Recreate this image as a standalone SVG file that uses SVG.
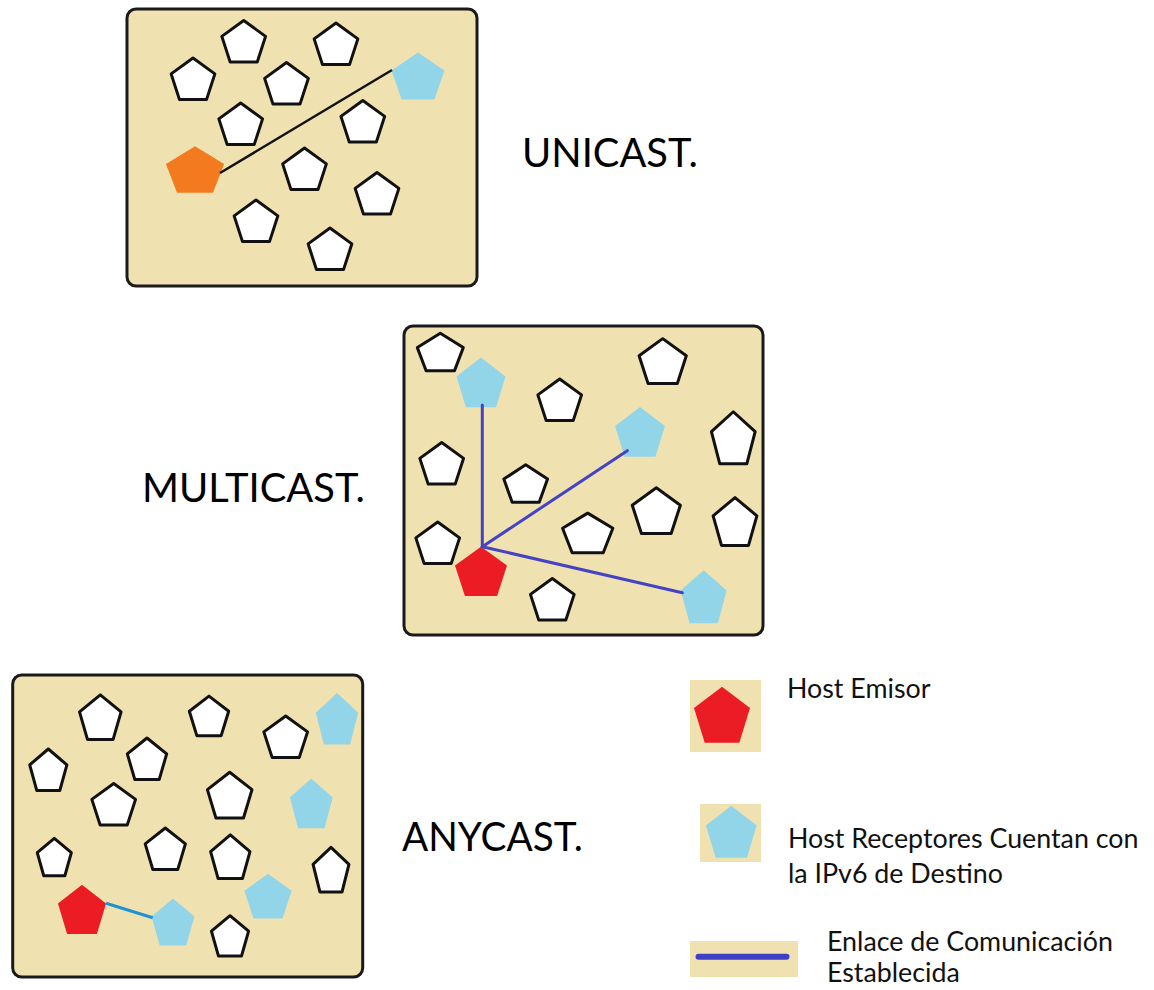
<svg xmlns="http://www.w3.org/2000/svg" width="1154" height="990" viewBox="0 0 1154 990">
<style>
.panel{fill:#F0E2B0;stroke:#1a1a1a;stroke-width:3}
.w{fill:#fff;stroke:#111;stroke-width:3;stroke-linejoin:round}
.w use,.w path{vector-effect:non-scaling-stroke}
.b{fill:#93D5E8}
.o{fill:#F47A20}
.r{fill:#EC1C24}
.lbl{font-family:Lato,"Liberation Sans",sans-serif;font-size:40px;fill:#000}
.leg{font-family:Lato,"Liberation Sans",sans-serif;font-size:26.8px;fill:#111}
.swatch{fill:#F0E2B0}
</style>
<defs>
<path id="p" d="M0,-23 L21.87,-7.11 L13.52,18.61 L-13.52,18.61 L-21.87,-7.11 Z" vector-effect="non-scaling-stroke"/>
</defs>

<g id="unicast">
<rect class="panel" x="127" y="9" width="350" height="277" rx="9"/>
<g class="w">
<use href="#p" transform="translate(243.7,43.5)"/>
<use href="#p" transform="translate(336,46)"/>
<use href="#p" transform="translate(193,81)"/>
<use href="#p" transform="translate(286.5,85.5)"/>
<use href="#p" transform="translate(240.7,126)"/>
<use href="#p" transform="translate(362.8,123.5)"/>
<use href="#p" transform="translate(304.5,171)"/>
<use href="#p" transform="translate(377,195.5)"/>
<use href="#p" transform="translate(256,223)"/>
<use href="#p" transform="translate(330,251)"/>
</g>
<use href="#p" class="o" transform="translate(195,172) scale(1.33,1.12)"/>
<use href="#p" class="b" transform="translate(418,78.5) scale(1.21,1.13)"/>
<text class="lbl" x="522" y="166.7" textLength="176" lengthAdjust="spacingAndGlyphs">UNICAST.</text>
</g>

<g id="multicast">
<rect class="panel" x="404" y="326" width="359" height="309" rx="9"/>
<g class="w">
<use href="#p" transform="translate(440.3,354) scale(1.05,0.9)"/>
<use href="#p" transform="translate(559.7,402)"/>
<use href="#p" transform="translate(662.7,363.5) scale(1.08)"/>
<use href="#p" transform="translate(733.3,440.5) scale(1,1.25)"/>
<use href="#p" transform="translate(441.7,465.5)"/>
<use href="#p" transform="translate(525.7,485.5) scale(1,0.9)"/>
<use href="#p" transform="translate(656.3,513) scale(1.1)"/>
<use href="#p" transform="translate(735,524) scale(1,1.15)"/>
<use href="#p" transform="translate(437.7,545)"/>
<use href="#p" transform="translate(587.7,535) scale(1.15,0.95)"/>
<use href="#p" transform="translate(552.3,601.5)"/>
</g>
<use href="#p" class="b" transform="translate(481,385) scale(1.12,1.2)"/>
<use href="#p" class="b" transform="translate(640,434.5) scale(1.14,1.2)"/>
<use href="#p" class="b" transform="translate(703.7,599.5) scale(1.05,1.27)"/>
<use href="#p" class="r" transform="translate(481,574) scale(1.19,1.18)"/>
<text class="lbl" x="142" y="501.7" textLength="223" lengthAdjust="spacingAndGlyphs">MULTICAST.</text>
</g>

<g id="anycast">
<rect class="panel" x="12.7" y="675" width="350" height="302" rx="9"/>
<g class="w">
<use href="#p" transform="translate(100.3,719.5) scale(0.95,1.07)"/>
<use href="#p" transform="translate(209,718) scale(0.9,0.95)"/>
<use href="#p" transform="translate(285.7,739)"/>
<use href="#p" transform="translate(48.3,772) scale(0.85,1)"/>
<use href="#p" transform="translate(147,761) scale(0.9,1)"/>
<use href="#p" transform="translate(113.7,806.5)"/>
<use href="#p" transform="translate(229.7,797.5) scale(1.02,1.1)"/>
<use href="#p" transform="translate(54.3,859) scale(0.78,0.9)"/>
<use href="#p" transform="translate(165.3,851) scale(0.92,1)"/>
<use href="#p" transform="translate(230.3,859) scale(0.9,1.05)"/>
<use href="#p" transform="translate(331,872) scale(0.82,1.07)"/>
<use href="#p" transform="translate(230,938) scale(0.85,0.97)"/>
</g>
<use href="#p" class="b" transform="translate(337,721.5) scale(0.97,1.24)"/>
<use href="#p" class="b" transform="translate(311.3,806) scale(0.98,1.2)"/>
<use href="#p" class="b" transform="translate(173,924.5) scale(0.98,1.13)"/>
<use href="#p" class="b" transform="translate(268,898.5) scale(1.08)"/>
<use href="#p" class="r" transform="translate(82,912) scale(1.1,1.18)"/>
<text class="lbl" x="402" y="850.7" textLength="181" lengthAdjust="spacingAndGlyphs">ANYCAST.</text>
</g>

<g id="connectors" fill="none">
<line x1="220" y1="173" x2="392" y2="70" stroke="#111" stroke-width="2.5"/>
<g stroke="#4343C4" stroke-width="3" stroke-linecap="round">
<line x1="482.3" y1="546.7" x2="482.3" y2="405"/>
<line x1="482.3" y1="546.7" x2="627.3" y2="450.7"/>
<line x1="482.3" y1="546.7" x2="682.3" y2="592.7"/>
</g>
<line x1="106" y1="903.3" x2="152.7" y2="917.7" stroke="#1E93D2" stroke-width="3"/>
</g>

<g id="legend-emisor">
<rect class="swatch" x="690" y="680" width="71" height="72"/>
<use href="#p" class="r" transform="translate(722,717.7) scale(1.28,1.35)"/>
<text class="leg" x="787" y="698">Host Emisor</text>
</g>
<g id="legend-receptores">
<rect class="swatch" x="700" y="804" width="61" height="58"/>
<use href="#p" class="b" transform="translate(731.3,834.5) scale(1.16,1.25)"/>
<text class="leg" x="788" y="847.7">Host Receptores Cuentan con</text>
<text class="leg" x="788" y="883.3">la IPv6 de Destino</text>
</g>
<g id="legend-enlace">
<rect class="swatch" x="690" y="941" width="108" height="36"/>
<line x1="698.5" y1="956.7" x2="786.5" y2="956.7" stroke="#3F3FC8" stroke-width="6" stroke-linecap="round"/>
<text class="leg" x="827" y="950.5">Enlace de Comunicación</text>
<text class="leg" x="827" y="982">Establecida</text>
</g>
</svg>
